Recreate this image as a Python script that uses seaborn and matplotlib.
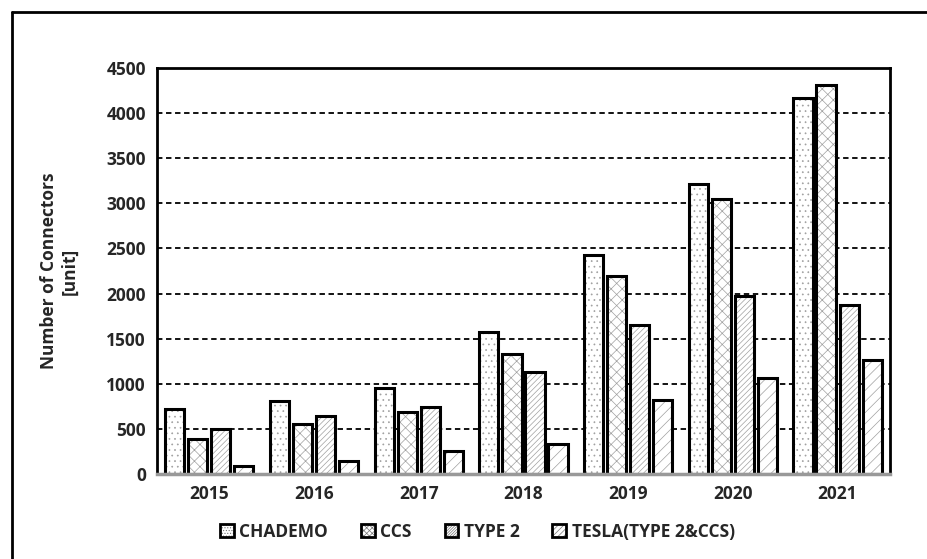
import numpy as np
import pandas as pd
import matplotlib
matplotlib.use("Agg")
import matplotlib.pyplot as plt
import matplotlib.patches as mpatches
import matplotlib.lines as mlines
import seaborn as sns

# =============================================
# DATA
# =============================================
years = ["2015", "2016", "2017", "2018", "2019", "2020", "2021"]
chademo = [720, 813, 950, 1574, 2431, 3211, 4168]
ccs = [388, 551, 687, 1327, 2190, 3044, 4308]
type2 = [499, 646, 746, 1131, 1650, 1976, 1877]
tesla = [89, 141, 258, 336, 824, 1061, 1264]
series_names = ["CHADEMO", "CCS", "TYPE 2", "TESLA(TYPE 2&CCS)"]
hatches = ["...", "xxx", "//////", "///"]

df = pd.DataFrame({
    "year": years * 4,
    "connector": np.repeat(series_names, len(years)),
    "count": chademo + ccs + type2 + tesla,
})

# =============================================
# STYLE
# =============================================
sns.set_style("white")
plt.rcParams["font.family"] = ["Open Sans", "DejaVu Sans"]
plt.rcParams["font.weight"] = "bold"
plt.rcParams["hatch.linewidth"] = 0.5
HATCH_GREY = "#a0a0a0"
FS = 12.5

fig = plt.figure(figsize=(9.27, 5.59), dpi=100)
ax = fig.add_axes([0.1694, 0.152, 0.7906, 0.7264])

sns.barplot(data=df, x="year", y="count", hue="connector", order=years,
            hue_order=series_names, palette=["white"] * 4, width=0.88,
            gap=0.17, legend=False, ax=ax, zorder=3)

# hatch in grey, outline in black (outline drawn on top as a second patch)
for cont, h in zip(ax.containers, hatches):
    for p in cont.patches:
        p.set_hatch(h)
        p.set_edgecolor(HATCH_GREY)
        p.set_linewidth(0)
        ax.add_patch(mpatches.Rectangle(p.get_xy(), p.get_width(), p.get_height(),
                                        fill=False, edgecolor="black",
                                        linewidth=2.2, zorder=4))

# =============================================
# AXES
# =============================================
ax.set_ylim(0, 4500)
ax.set_xlim(-0.5, 6.5)
ax.set_yticks(np.arange(0, 4501, 500))
ax.yaxis.grid(True, linestyle=(0, (3, 2)), color="black", linewidth=1.3, zorder=0)
ax.set_axisbelow(True)
ax.set_xlabel("")
ax.set_ylabel("Number of Connectors\n[unit]", fontsize=FS, fontweight="bold",
              labelpad=20, linespacing=1.15)
ax.tick_params(axis="both", labelsize=FS, length=0, pad=8)
for lbl in ax.get_xticklabels() + ax.get_yticklabels():
    lbl.set_fontweight("bold")
for side in ["left", "top", "right"]:
    ax.spines[side].set_color("black")
    ax.spines[side].set_linewidth(2)
ax.spines["bottom"].set_color("#999999")
ax.spines["bottom"].set_linewidth(2.5)
ax.spines["bottom"].set_zorder(5)

# legend
handles = []
for h in hatches:
    handles.append(mpatches.Rectangle((0, 0), 1, 1, facecolor="white",
                                      edgecolor="#777777", linewidth=0.01,
                                      hatch=h * 2))
outline = mpatches.Rectangle((0, 0), 1, 1, fill=False, edgecolor="black", linewidth=2)
fig.legend([(hd, outline) for hd in handles], series_names, loc="center",
           bbox_to_anchor=(0.515, 0.049), ncol=4, frameon=False,
           prop={"size": FS, "weight": "bold"}, handlelength=0.8,
           handleheight=0.8, handletextpad=0.3, columnspacing=1.9)

# outer frame: only left and top edges visible (picture is cropped)
fig.add_artist(mlines.Line2D([11.5 / 927, 11.5 / 927], [0, 1 - 12 / 559],
                             color="black", linewidth=2, transform=fig.transFigure))
fig.add_artist(mlines.Line2D([11.5 / 927, 1], [1 - 12 / 559, 1 - 12 / 559],
                             color="black", linewidth=2, transform=fig.transFigure))

fig.savefig("out.png", dpi=100)
plt.close(fig)
